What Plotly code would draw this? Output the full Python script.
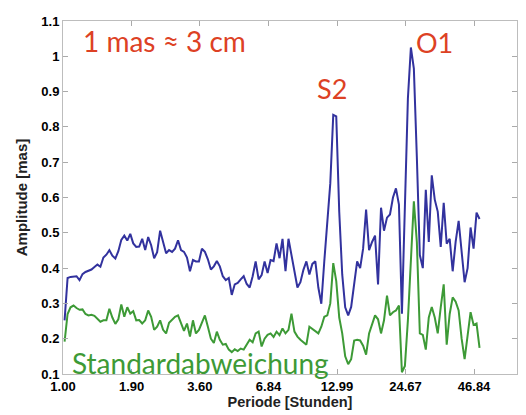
import numpy as np
import plotly.graph_objects as go

# Periods (hours) on a log grid, 140 samples
period_h = np.geomspace(1.015, 49.3, 140)

amplitude = [
    0.252, 0.372, 0.375, 0.377, 0.377, 0.366, 0.383, 0.389, 0.393, 0.396,
    0.403, 0.410, 0.404, 0.430, 0.438, 0.451, 0.435, 0.427, 0.448, 0.480,
    0.492, 0.478, 0.497, 0.470, 0.460, 0.461, 0.483, 0.451, 0.488, 0.465,
    0.428, 0.445, 0.506, 0.474, 0.442, 0.451, 0.446, 0.455, 0.479, 0.451,
    0.446, 0.430, 0.391, 0.423, 0.419, 0.419, 0.455, 0.446, 0.425, 0.396,
    0.405, 0.420, 0.405, 0.377, 0.366, 0.372, 0.324, 0.354, 0.358, 0.368,
    0.377, 0.355, 0.345, 0.377, 0.419, 0.368, 0.380, 0.419, 0.386, 0.423,
    0.420, 0.470, 0.428, 0.483, 0.391, 0.483, 0.440, 0.391, 0.345, 0.360,
    0.395, 0.419, 0.382, 0.412, 0.419, 0.345, 0.299, 0.420, 0.520, 0.640,
    0.834, 0.830, 0.560, 0.382, 0.289, 0.266, 0.290, 0.360, 0.419, 0.400,
    0.455, 0.566, 0.451, 0.474, 0.492, 0.354, 0.571, 0.506, 0.543, 0.552,
    0.600, 0.626, 0.580, 0.271, 0.612, 0.880, 1.025, 0.965, 0.714, 0.437,
    0.400, 0.622, 0.474, 0.663, 0.594, 0.560, 0.460, 0.585, 0.469, 0.483,
    0.391, 0.475, 0.534, 0.450, 0.360, 0.400, 0.515, 0.455, 0.557, 0.539,
]

std_dev = [
    0.192, 0.270, 0.289, 0.294, 0.287, 0.282, 0.283, 0.270, 0.266, 0.268,
    0.265, 0.255, 0.248, 0.252, 0.252, 0.285, 0.260, 0.242, 0.255, 0.297,
    0.262, 0.289, 0.271, 0.278, 0.252, 0.253, 0.243, 0.252, 0.280, 0.262,
    0.225, 0.234, 0.252, 0.225, 0.215, 0.245, 0.255, 0.262, 0.266, 0.243,
    0.222, 0.243, 0.206, 0.252, 0.215, 0.225, 0.245, 0.266, 0.234, 0.200,
    0.188, 0.220, 0.197, 0.183, 0.185, 0.169, 0.162, 0.170, 0.165, 0.172,
    0.169, 0.183, 0.197, 0.190, 0.215, 0.220, 0.178, 0.200, 0.211, 0.215,
    0.205, 0.220, 0.210, 0.229, 0.215, 0.225, 0.271, 0.220, 0.206, 0.197,
    0.190, 0.183, 0.234, 0.228, 0.220, 0.215, 0.234, 0.262, 0.266, 0.300,
    0.414, 0.363, 0.260, 0.215, 0.150, 0.128, 0.142, 0.195, 0.197, 0.195,
    0.180, 0.155, 0.215, 0.239, 0.266, 0.255, 0.215, 0.252, 0.322, 0.266,
    0.275, 0.280, 0.294, 0.105, 0.123, 0.252, 0.419, 0.589, 0.474, 0.215,
    0.211, 0.169, 0.260, 0.290, 0.260, 0.215, 0.289, 0.354, 0.183, 0.270,
    0.317, 0.305, 0.280, 0.200, 0.142, 0.215, 0.275, 0.239, 0.243, 0.174,
]

x_ticks = [1.00, 1.90, 3.60, 6.84, 12.99, 24.67, 46.84]
x_tick_labels = ["1.00", "1.90", "3.60", "6.84", "12.99", "24.67", "46.84"]
y_ticks = [0.1, 0.2, 0.3, 0.4, 0.5, 0.6, 0.7, 0.8, 0.9, 1.0, 1.1]
y_tick_labels = ["0.1", "0.2", "0.3", "0.4", "0.5", "0.6", "0.7", "0.8", "0.9", "1", "1.1"]

BLUE = "#32329e"
GREEN = "#3d9a36"
RED = "#dd4124"

fig = go.Figure()
fig.add_trace(go.Scatter(x=period_h, y=amplitude, mode="lines",
                         line=dict(color=BLUE, width=2), showlegend=False))
fig.add_trace(go.Scatter(x=period_h, y=std_dev, mode="lines",
                         line=dict(color=GREEN, width=2), showlegend=False))

FONT = "Liberation Sans, Arial, sans-serif"
tick_font = dict(family=FONT, size=13, color="black", weight="bold")
axis_common = dict(showline=True, linecolor="#bdbdbd", linewidth=1, mirror="ticks",
                   ticks="inside", ticklen=5, tickcolor="#aaaaaa", showgrid=False,
                   zeroline=False, tickfont=tick_font, ticklabeloverflow="allow")

fig.update_xaxes(type="log", range=[0, np.log10(70.0)], tickvals=x_ticks,
                 ticktext=x_tick_labels,
                 title=dict(text="Periode [Stunden]", standoff=3,
                            font=dict(family=FONT, size=14.5, color="#222222", weight="bold")),
                 **axis_common)
fig.update_yaxes(range=[0.1, 1.1], tickvals=y_ticks, ticktext=y_tick_labels,
                 title=dict(text="Amplitude [mas]", standoff=10,
                            font=dict(family=FONT, size=15, color="#222222", weight="bold")),
                 **axis_common)

ann_font = "Lato, Open Sans, sans-serif"
fig.add_annotation(text="1 mas ≈ 3 cm", xref="paper", yref="paper", x=0.04, y=0.943,
                   xanchor="left", yanchor="middle", showarrow=False,
                   font=dict(family=ann_font, size=28, color=RED))
fig.add_annotation(text="S2", xref="paper", yref="paper", x=0.593, y=0.81,
                   xanchor="center", yanchor="middle", showarrow=False,
                   font=dict(family=ann_font, size=27, color=RED))
fig.add_annotation(text="O1", xref="paper", yref="paper", x=0.818, y=0.94,
                   xanchor="center", yanchor="middle", showarrow=False,
                   font=dict(family=ann_font, size=27, color=RED))
fig.add_annotation(text="Standardabweichung", xref="paper", yref="paper", x=0.016, y=0.03,
                   xanchor="left", yanchor="middle", showarrow=False,
                   font=dict(family=ann_font, size=28, color=GREEN))

# the page body adds an 8px offset; size/margins compensate so the plot area
# lands at x 63..517, y 14..374 of the 526x415 window
fig.update_layout(width=518, height=407, margin=dict(l=55, r=9, t=6, b=41),
                  paper_bgcolor="white", plot_bgcolor="white")

fig.write_html("out.html")
